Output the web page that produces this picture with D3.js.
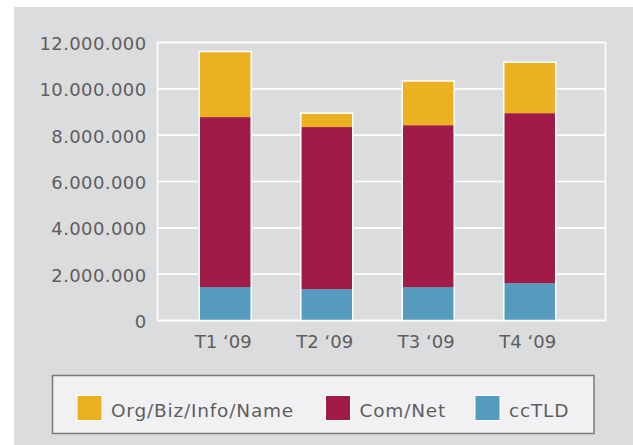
<!doctype html>
<html>
<head>
<meta charset="utf-8">
<script src="https://cdn.jsdelivr.net/npm/d3@7"></script>
<style>
  body { margin: 0; background: #fff; }
  text { font-family: "DejaVu Sans", sans-serif; fill: #5e5e60; }
</style>
</head>
<body>
<svg id="chart" width="633" height="445"></svg>
<script>
// data
const quarters = ["T1 \u201809", "T2 \u201809", "T3 \u201809", "T4 \u201809"];
const ccTLD    = [1440000, 1350000, 1440000, 1610000];
const comNet   = [7340000, 7000000, 6990000, 7340000];
const orgBiz   = [2830000, 600000, 1910000, 2200000];
const yTicks   = [0, 2000000, 4000000, 6000000, 8000000, 10000000, 12000000];
const seriesNames = ["ccTLD", "Com/Net", "Org/Biz/Info/Name"];
const colors = { "ccTLD": "#559bbe", "Com/Net": "#a01b48", "Org/Biz/Info/Name": "#ecb120" };

const rows = quarters.map((q, i) => ({
  q: q, "ccTLD": ccTLD[i], "Com/Net": comNet[i], "Org/Biz/Info/Name": orgBiz[i]
}));

const svg = d3.select("#chart");

// grey panel
svg.append("rect").attr("x", 14).attr("y", 7).attr("width", 619).attr("height", 438)
  .attr("fill", "#dbdcde");

const plot = { left: 157.5, right: 605.5, top: 42.5, bottom: 320.5 };

const y = d3.scaleLinear().domain([0, 12000000]).range([plot.bottom, plot.top]);
const x = d3.scaleBand().domain(quarters)
  .range([plot.left + 17, plot.right - 25])
  .paddingInner(0.488).paddingOuter(0.244);

const fmt = v => d3.format(",")(v).replace(/,/g, ".");

// grid lines
svg.append("g").selectAll("line").data(yTicks).join("line")
  .attr("x1", plot.left).attr("x2", plot.right)
  .attr("y1", d => y(d)).attr("y2", d => y(d))
  .attr("stroke", "#fff").attr("stroke-width", 1.6);

svg.append("rect")
  .attr("x", plot.left).attr("y", plot.top)
  .attr("width", plot.right - plot.left).attr("height", plot.bottom - plot.top)
  .attr("fill", "none").attr("stroke", "#fff").attr("stroke-width", 1.6);

// y labels
svg.append("g").selectAll("text").data(yTicks).join("text")
  .attr("x", plot.left - 11).attr("y", d => y(d)).attr("dy", "0.42em")
  .attr("text-anchor", "end").attr("font-size", 18).attr("letter-spacing", 0.4)
  .text(d => fmt(d));

// x labels
svg.append("g").selectAll("text").data(quarters).join("text")
  .attr("x", d => x(d) + x.bandwidth() / 2 - 2).attr("y", 347.5)
  .attr("text-anchor", "middle").attr("font-size", 18)
  .text(d => d);

// stacked bars
const stack = d3.stack().keys(seriesNames)(rows);
svg.append("g").selectAll("g").data(stack).join("g")
  .attr("fill", d => colors[d.key])
  .selectAll("rect").data(d => d).join("rect")
  .attr("x", d => x(d.data.q))
  .attr("width", x.bandwidth())
  .attr("y", d => y(d[1]))
  .attr("height", d => y(d[0]) - y(d[1]));

// white outline around each whole bar
svg.append("g").selectAll("rect").data(stack[stack.length - 1]).join("rect")
  .attr("x", d => x(d.data.q))
  .attr("width", x.bandwidth())
  .attr("y", d => y(d[1]))
  .attr("height", d => y(0) - y(d[1]))
  .attr("fill", "none").attr("stroke", "#fff").attr("stroke-width", 1.5);

// legend
const legend = svg.append("g");
legend.append("rect").attr("x", 52.5).attr("y", 375.5).attr("width", 541.5).attr("height", 58)
  .attr("fill", "#f1f1f3").attr("stroke", "#7a7a7c").attr("stroke-width", 1.5);

const legendItems = ["Org/Biz/Info/Name", "Com/Net", "ccTLD"];
const legendX = [77, 325.5, 475];
legendItems.forEach((name, i) => {
  legend.append("rect").attr("x", legendX[i]).attr("y", 395.5).attr("width", 25).attr("height", 25)
    .attr("fill", colors[name]).attr("stroke", "#fff").attr("stroke-width", 1);
  legend.append("text").attr("x", legendX[i] + 34).attr("y", 417)
    .attr("font-size", 18.5).attr("letter-spacing", 0.8).text(name);
});
</script>
</body>
</html>
